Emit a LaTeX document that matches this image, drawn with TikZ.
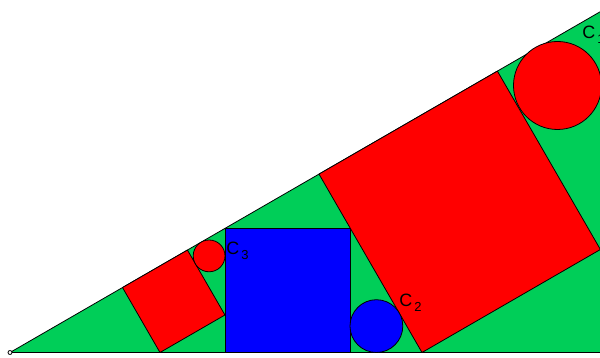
\documentclass[tikz,border=0pt]{standalone}
\usepackage{fontspec}
\setmainfont{Liberation Sans}
\definecolor{trigreen}{RGB}{0,206,88}
\newcommand{\circlab}[1]{C\kern1.2pt\raisebox{-.5ex}{\fontsize{7.4}{8}\selectfont #1}}
\begin{document}
\begin{tikzpicture}[x=.02cm,y=.02cm,line join=round,line cap=round,line width=.45pt,font=\fontsize{10.2}{11}\selectfont]
	\clip (-10,-5.5) rectangle (590,352.5);
	\fill[trigreen] (0,0)--(590.4,0)--(590.4,340.9)--cycle;
	\draw (0,0)--(600,0) (0,0)--(30:700);
	\filldraw[fill=red] (150,0)--++(30:75)--++(120:75)--++(210:75)--cycle;
	\filldraw[fill=blue] (215,0) rectangle (340,124.1);
	\filldraw[fill=red] (412,0)--++(30:206)--++(120:206)--++(210:206)--cycle;
	\filldraw[fill=red] (547.5,267) circle (44);
	\filldraw[fill=blue] (366.4,26.4) circle (26.4);
	\filldraw[fill=red] (199.1,96.6) circle (15.9);
	\filldraw[fill=white] (0,0) circle (2);
	\node[anchor=base west,inner sep=0] (lab1) at (572,314.2) {\circlab{1}};
	\node[anchor=base west,inner sep=0] (lab2) at (389,45.8) {\circlab{2}};
	\node[anchor=base west,inner sep=0] (lab3) at (216,97.5) {\circlab{3}};
\end{tikzpicture}
\end{document}
